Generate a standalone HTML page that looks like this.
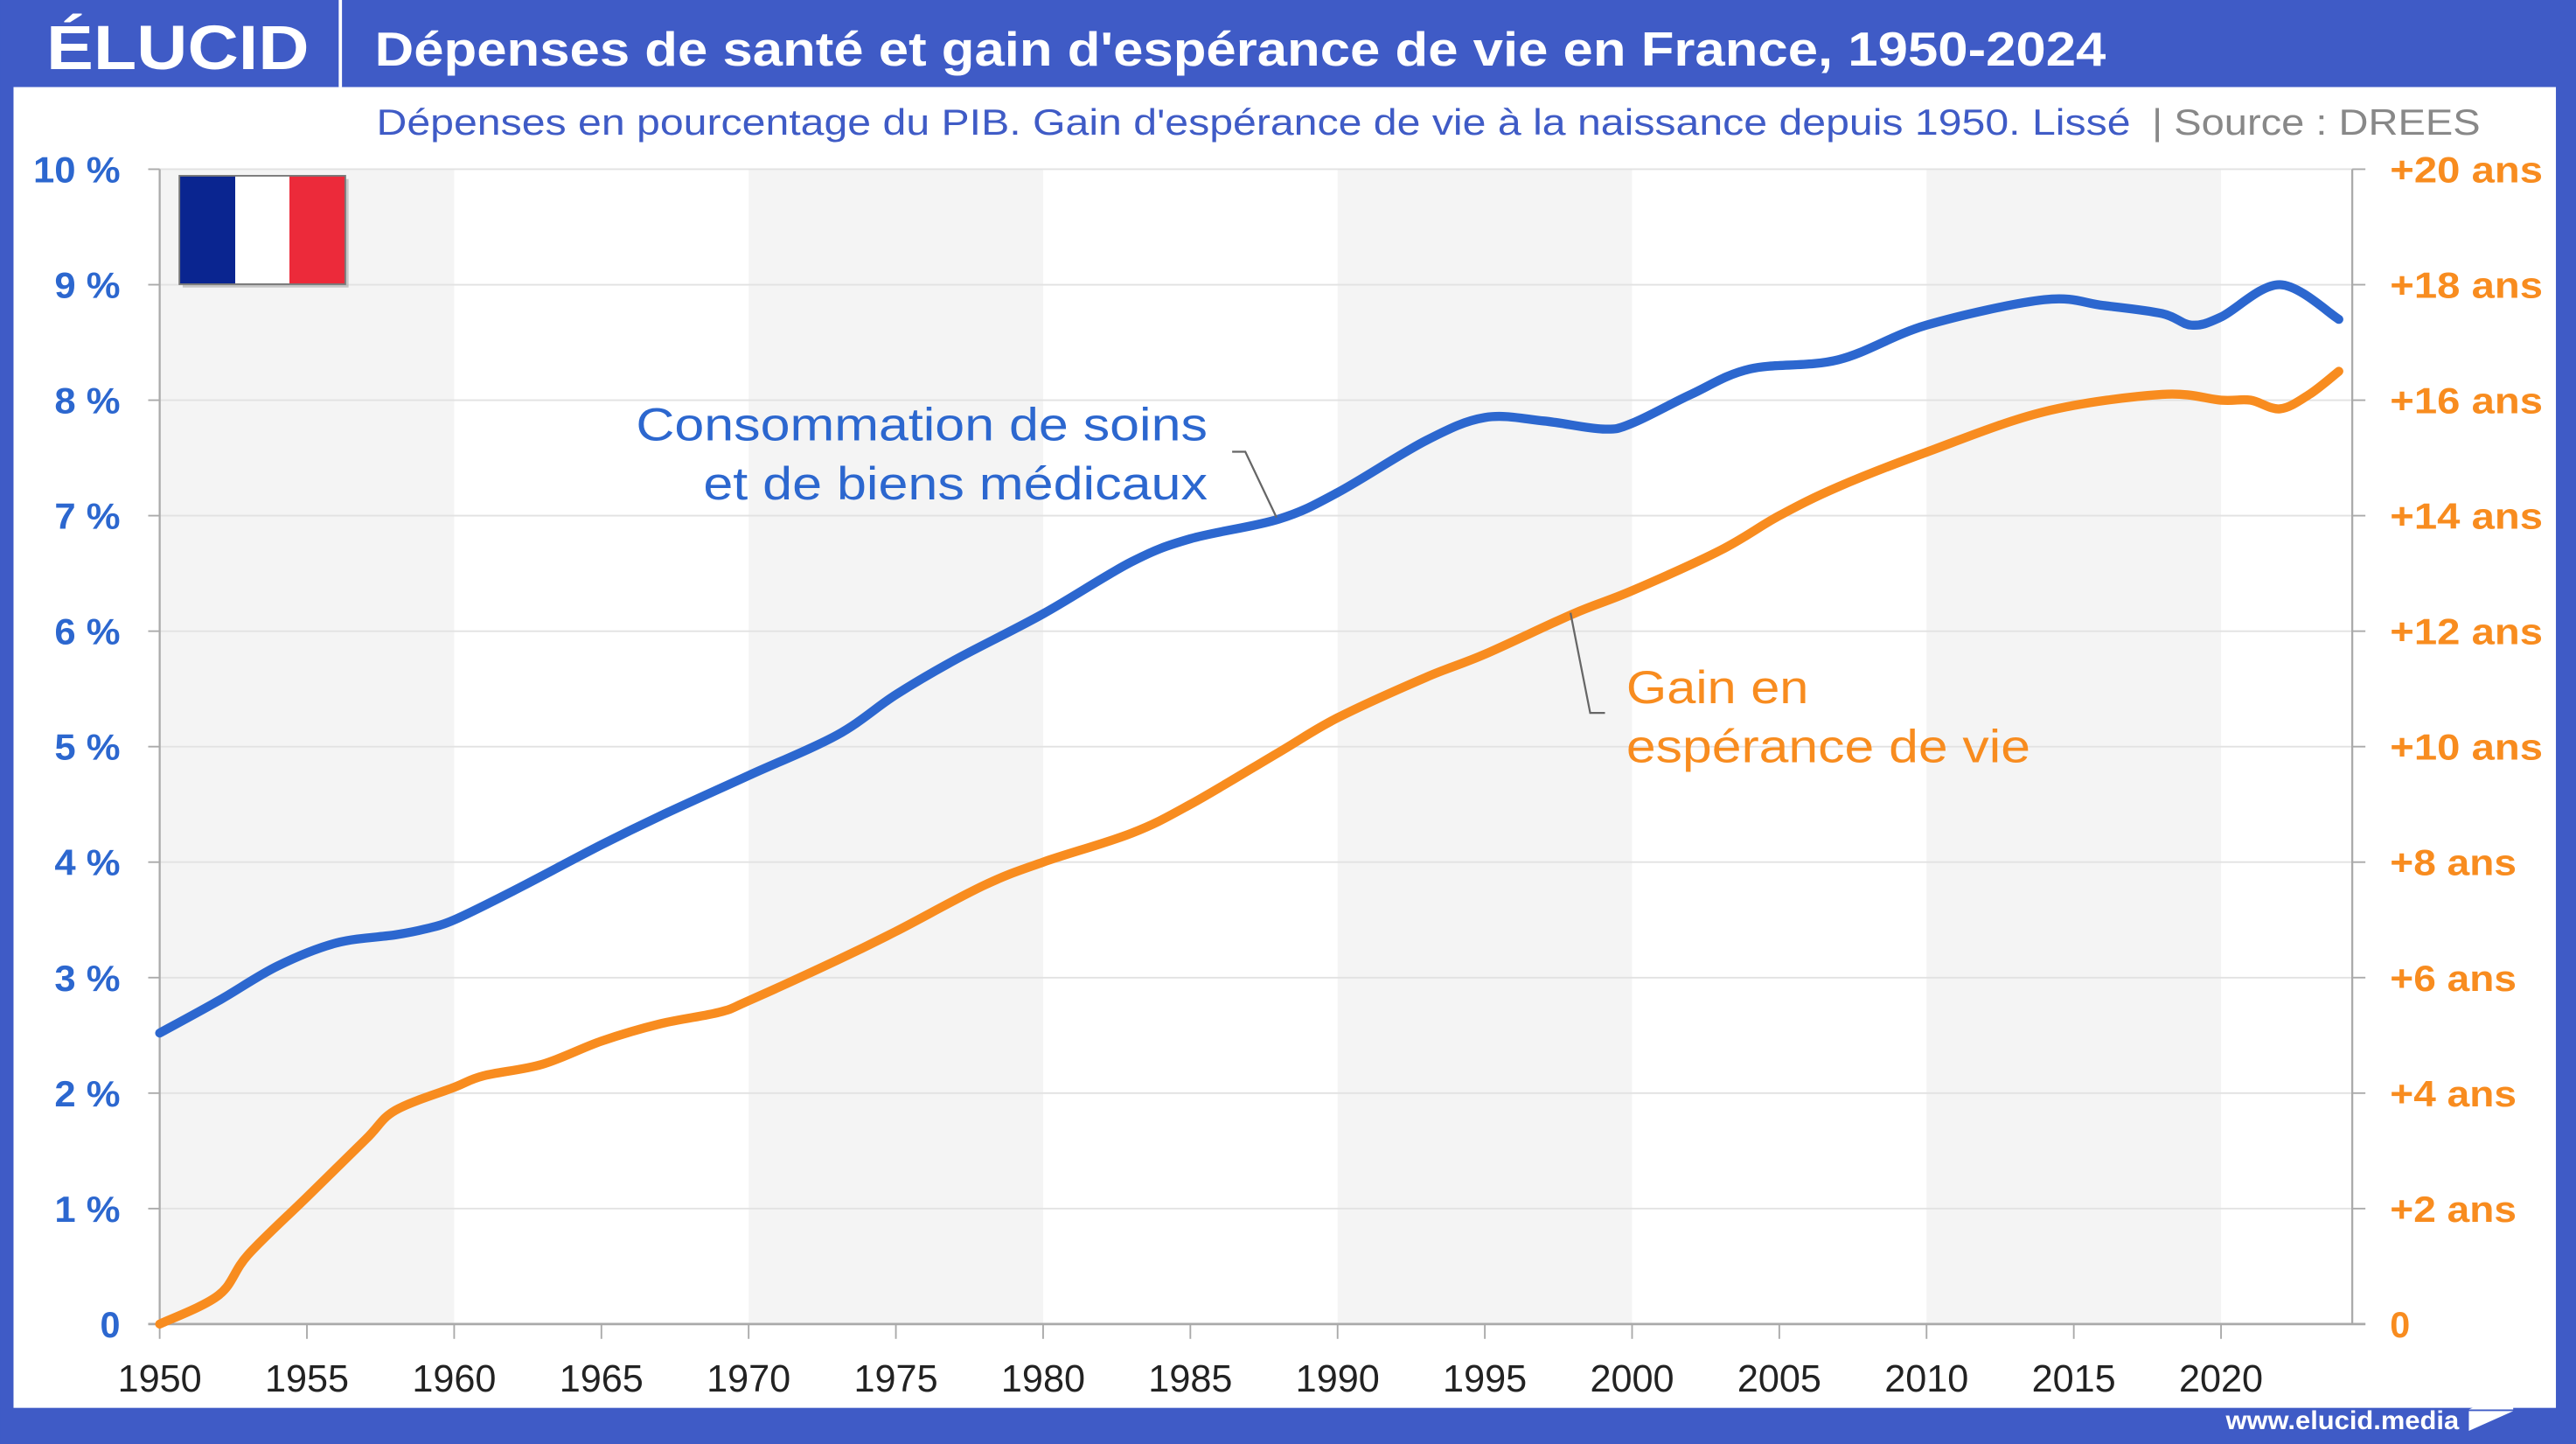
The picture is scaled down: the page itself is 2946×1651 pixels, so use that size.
<!DOCTYPE html>
<html><head><meta charset="utf-8"><style>
html,body{margin:0;padding:0;background:#3f5bc6;}
svg{display:block}
text{font-family:"Liberation Sans",sans-serif}
</style></head><body>
<svg id="s" width="2946" height="1651" viewBox="0 0 1568 879" xmlns="http://www.w3.org/2000/svg">
<rect x="0" y="0" width="1568" height="879" fill="#3f5bc6"/>
<rect x="8" y="53" width="1548" height="804" fill="#ffffff"/>
<line x1="207" y1="0" x2="207" y2="53" stroke="#fff" stroke-width="2"/>
<text x="28" y="42" font-size="38" font-weight="bold" fill="#fff" textLength="160" lengthAdjust="spacingAndGlyphs">ÉLUCID</text>
<text x="228" y="40" font-size="29" font-weight="bold" fill="#fff" textLength="1054" lengthAdjust="spacingAndGlyphs">Dépenses de santé et gain d'espérance de vie en France, 1950-2024</text>
<text x="229" y="82" font-size="22" fill="#3f5bc6" textLength="1068" lengthAdjust="spacingAndGlyphs">Dépenses en pourcentage du PIB. Gain d'espérance de vie à la naissance depuis 1950. Lissé</text>
<text x="1310" y="82" font-size="22" fill="#888" textLength="200" lengthAdjust="spacingAndGlyphs">|  Source : DREES</text>
<g id="bands"></g>
<g id="grid"></g>
<rect x="111" y="109" width="101" height="66" fill="#999" opacity="0.5"/>
<rect x="109" y="107" width="34" height="66" fill="#0a2590"/>
<rect x="143" y="107" width="34" height="66" fill="#fff"/>
<rect x="176" y="107" width="34" height="66" fill="#ec2a3a"/>
<rect x="109" y="107" width="101" height="66" fill="none" stroke="#777" stroke-width="1"/>
<line x1="97" y1="103" x2="97" y2="806" stroke="#aaa" stroke-width="1.2"/>
<line x1="1432" y1="103" x2="1432" y2="806" stroke="#aaa" stroke-width="1.2"/>
<line x1="90" y1="806" x2="1440" y2="806" stroke="#aaa" stroke-width="1.5"/>
<g id="labels"></g>
<path id="blue" fill="none" stroke="#2c67cf" stroke-width="5.5" stroke-linecap="round" stroke-linejoin="round"/>
<path id="orange" fill="none" stroke="#f88c1f" stroke-width="5.5" stroke-linecap="round" stroke-linejoin="round"/>
<text x="387" y="268" font-size="28" fill="#2c67cf" textLength="348" lengthAdjust="spacingAndGlyphs">Consommation de soins</text>
<text x="428" y="304" font-size="28" fill="#2c67cf" textLength="307" lengthAdjust="spacingAndGlyphs">et de biens médicaux</text>
<polyline points="750,275 758,275 777,315" fill="none" stroke="#666" stroke-width="1.2"/>
<text x="990" y="428" font-size="28" fill="#f88c1f" textLength="111" lengthAdjust="spacingAndGlyphs">Gain en</text>
<text x="990" y="464" font-size="28" fill="#f88c1f" textLength="246" lengthAdjust="spacingAndGlyphs">espérance de vie</text>
<polyline points="956,373 968,434 977,434" fill="none" stroke="#666" stroke-width="1.2"/>
<text x="1355" y="870" font-size="16" font-weight="bold" fill="#fff" textLength="142" lengthAdjust="spacingAndGlyphs">www.elucid.media</text>
<polygon points="1503,858 1530,846 1530,858" fill="#fff"/>
<polygon points="1503,859 1530,859 1503,871" fill="#fff"/>
</svg>
<script>
var NS="http://www.w3.org/2000/svg";
function X(y){return 97+(y-1950)*17.93}
function el(t,a,p,txt){var e=document.createElementNS(NS,t);for(var k in a)e.setAttribute(k,a[k]);if(txt!=null)e.textContent=txt;document.getElementById(p).appendChild(e);return e;}
[1950,1970,1990,2010].forEach(function(y){el("rect",{x:X(y),y:103,width:X(y+10)-X(y),height:703,fill:"#f4f4f4"},"bands")});
for(var i=0;i<=10;i++){var yy=806-i*70.3;
 if(i>0)el("line",{x1:97,y1:yy,x2:1432,y2:yy,stroke:"#e2e2e2","stroke-width":1},"grid");
 el("line",{x1:90,y1:yy,x2:97,y2:yy,stroke:"#aaa","stroke-width":1},"grid");
 el("line",{x1:1432,y1:yy,x2:1440,y2:yy,stroke:"#aaa","stroke-width":1},"grid");
 var lt=i==0?"0":i+" %";
 var a={x:73,y:yy+8,"font-size":22,"font-weight":"bold",fill:"#2c67cf","text-anchor":"end"};
 if(i>0){a.textLength=i==10?53:40;a.lengthAdjust="spacingAndGlyphs";}
 el("text",a,"labels",lt);
 var rt=i==0?"0":"+"+(2*i)+" ans";
 var b={x:1455,y:yy+8,"font-size":22,"font-weight":"bold",fill:"#f88c1f"};
 if(i>0){b.textLength=(2*i>=10)?93:77;b.lengthAdjust="spacingAndGlyphs";}
 el("text",b,"labels",rt);
}
for(var y=1950;y<=2020;y+=5){el("line",{x1:X(y),y1:806,x2:X(y),y2:815,stroke:"#aaa","stroke-width":1},"grid");
 el("text",{x:X(y),y:847,"font-size":23,fill:"#222","text-anchor":"middle"},"labels",""+y);}
var B=[[1950,2.52],[1952,2.8],[1954,3.1],[1956,3.3],[1958,3.37],[1959,3.42],[1960,3.5],[1962,3.75],[1965,4.15],[1967,4.4],[1970,4.75],[1973,5.1],[1975,5.45],[1977,5.75],[1980,6.15],[1983,6.6],[1985,6.8],[1988,6.97],[1990,7.2],[1993,7.65],[1995,7.85],[1997,7.82],[1999,7.75],[2000,7.8],[2002,8.05],[2004,8.27],[2007,8.35],[2010,8.65],[2014,8.87],[2016,8.82],[2018,8.75],[2019,8.65],[2020,8.72],[2022,9.0],[2024,8.7]];
var O=[[1950,0],[1952,0.5],[1953,1.2],[1955,2.2],[1957,3.2],[1958,3.7],[1960,4.1],[1961,4.3],[1963,4.5],[1965,4.9],[1967,5.2],[1969,5.4],[1970,5.6],[1973,6.3],[1975,6.8],[1978,7.6],[1980,8.0],[1983,8.5],[1985,9.0],[1988,9.9],[1990,10.5],[1993,11.2],[1995,11.6],[1998,12.3],[2000,12.7],[2003,13.4],[2005,14.0],[2007,14.5],[2010,15.1],[2014,15.8],[2018,16.1],[2020,16.0],[2021,16.0],[2022,15.85],[2023,16.1],[2024,16.5]];
function path(d,f){var p=d.map(function(a){return [X(a[0]),f(a[1])]});var s="M"+p[0][0]+","+p[0][1];
 for(var i=0;i<p.length-1;i++){var p0=p[i-1]||p[i],p1=p[i],p2=p[i+1],p3=p[i+2]||p2;
  s+=" C"+(p1[0]+(p2[0]-p0[0])/6)+","+(p1[1]+(p2[1]-p0[1])/6)+" "+(p2[0]-(p3[0]-p1[0])/6)+","+(p2[1]-(p3[1]-p1[1])/6)+" "+p2[0]+","+p2[1];}
 return s;}
document.getElementById("blue").setAttribute("d",path(B,function(v){return 806-v*70.3}));
document.getElementById("orange").setAttribute("d",path(O,function(v){return 806-v*35.15}));
</script>
</body></html>
